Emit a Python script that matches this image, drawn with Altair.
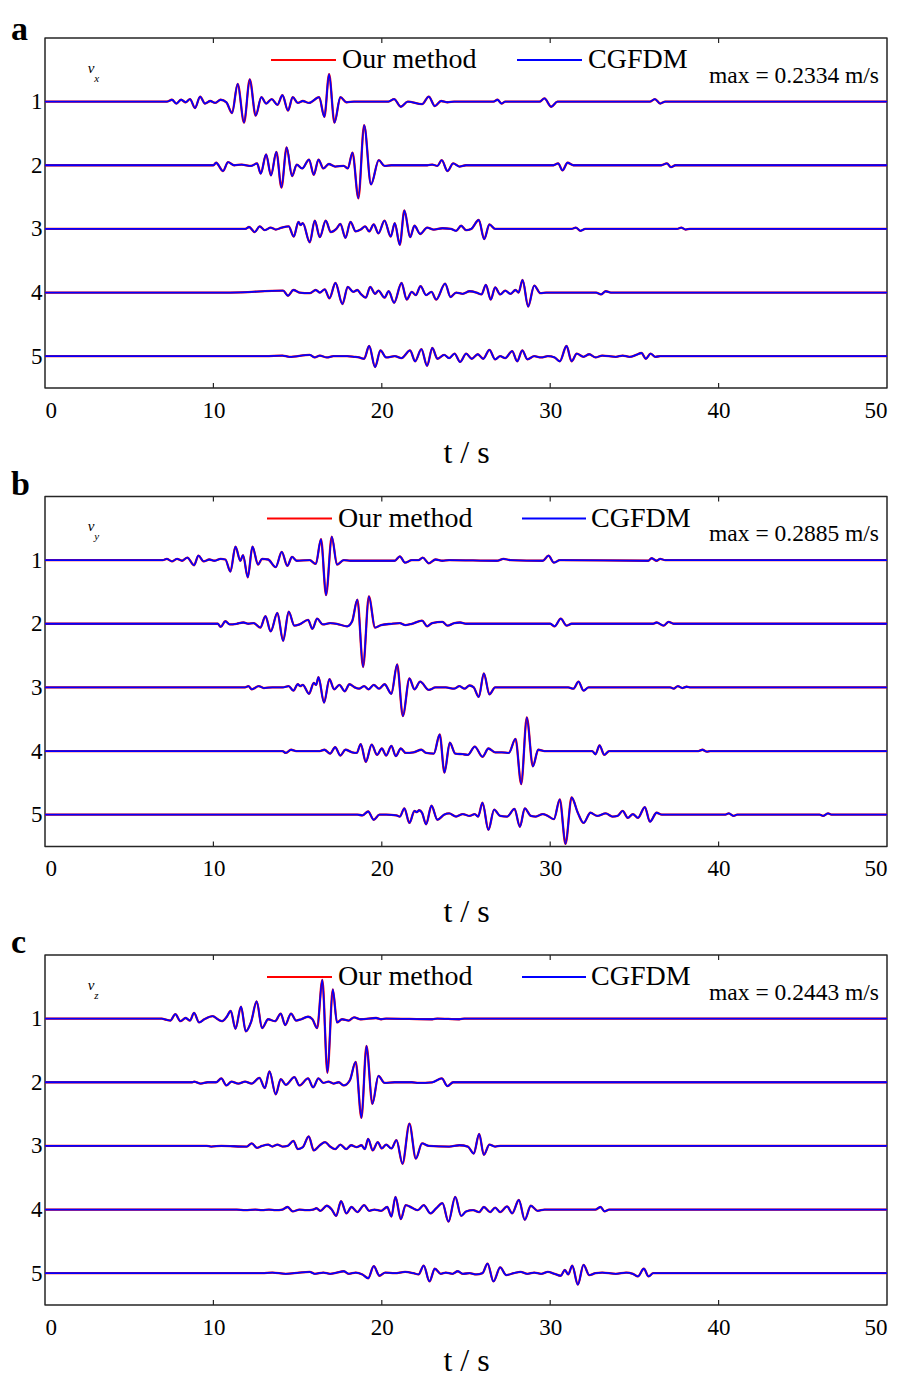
import altair as alt
import pandas as pd

FONT = "Liberation Serif"
W, H = 842, 350

x_ticks = [0, 10, 20, 30, 40, 50]
inner_ticks = [10, 20, 30, 40]
trace_ids = [1, 2, 3, 4, 5]
series_names = ["Our method", "CGFDM"]
series_colors = ["#ff0000", "#0000ff"]
panel_letters = ["a", "b", "c"]
components = ["x", "y", "z"]
max_labels = ["max = 0.2334 m/s", "max = 0.2885 m/s", "max = 0.2443 m/s"]

# (time s, normalised amplitude in trace-spacing units)
vx1 = [(0,0),(7.23,0),(7.54,.03),(7.80,-.03),(8.08,.03),(8.35,-.01),(8.61,.04),(8.91,-.10),(9.21,.08),(9.50,-.03),(9.82,.01),(10.10,-.02),(10.43,.03),(10.77,-.01),(11.11,-.18),(11.44,.28),(11.82,-.33),(12.16,.35),(12.51,-.22),(12.85,.07),(13.13,-.03),(13.46,.04),(13.80,-.05),(14.10,.10),(14.43,-.14),(14.71,.07),(15.01,-.02),(15.31,.01),(15.68,-.02),(16.28,.07),(16.59,-.24),(16.87,.43),(17.19,-.33),(17.54,.07),(17.90,-.01),(18.35,0),(20.40,0),(20.73,.04),(21.13,-.08),(21.54,0),(22.39,-.04),(22.79,.08),(23.15,-.07),(23.52,.01),(23.90,-.01),(24.3,0),(26.63,0),(26.87,.03),(27.11,-.03),(27.33,0),(29.36,0),(29.66,.05),(30.06,-.08),(30.43,0),(35.92,0),(36.22,.04),(36.53,-.03),(36.83,0),(50,0)]
vx2 = [(0,0),(10.0,0),(10.16,.04),(10.57,-.09),(10.87,.05),(11.23,0),(11.68,.01),(12.24,-.01),(12.59,.03),(12.81,-.13),(13.13,.17),(13.42,-.16),(13.74,.21),(14.04,-.35),(14.35,.28),(14.67,-.17),(14.95,.01),(15.27,-.05),(15.68,.09),(15.96,-.15),(16.24,.09),(16.53,-.05),(16.85,.02),(17.23,-.02),(17.74,-.01),(17.98,-.05),(18.26,.20),(18.61,-.52),(18.95,.63),(19.36,-.30),(19.82,.08),(20.16,-.01),(20.57,0),(22.7,0),(23.0,.01),(23.3,-.01),(23.56,.08),(23.9,-.09),(24.24,.03),(24.61,-.02),(25.0,0),(30.2,0),(30.47,.03),(30.73,-.08),(31.03,.04),(31.38,0),(36.6,0),(36.93,.03),(37.17,-.03),(37.44,0),(50,0)]
vx3 = [(0,0),(11.9,0),(12.12,.03),(12.45,-.05),(12.75,.04),(13.05,-.02),(13.40,.02),(13.70,-.01),(14.06,.02),(14.47,.04),(14.77,-.12),(15.05,.11),(15.18,.06),(15.31,.09),(15.72,-.21),(16.02,.13),(16.32,-.13),(16.67,.13),(16.97,-.05),(17.30,0),(17.54,.08),(17.84,-.14),(18.14,.11),(18.45,-.04),(18.75,-.01),(19.01,.04),(19.25,-.04),(19.52,.07),(19.80,-.07),(20.16,.13),(20.53,-.12),(20.77,.09),(21.07,-.25),(21.34,.29),(21.68,-.13),(21.94,.05),(22.28,-.08),(22.69,.02),(23.09,-.01),(23.60,.01),(24.10,0),(24.41,-.03),(24.71,.05),(25.01,-.02),(25.31,0),(25.76,.14),(26.08,-.16),(26.39,.07),(26.73,0),(31.27,0),(31.52,.02),(31.80,-.03),(32.08,0),(37.54,0),(37.78,.02),(38.04,-.01),(38.3,0),(50,0)]
vx4 = [(0,0),(11.0,0),(14.14,.03),(14.43,-.05),(14.75,.04),(15.11,0),(15.72,-.01),(16.08,.04),(16.32,0),(16.61,.05),(16.89,-.09),(17.25,.15),(17.66,-.18),(17.98,.09),(18.30,.01),(18.55,.04),(18.75,-.02),(19.05,-.08),(19.31,.09),(19.60,-.02),(19.80,.03),(20.16,-.08),(20.41,.02),(20.73,-.16),(21.17,.15),(21.48,-.11),(21.78,.01),(22.02,-.04),(22.30,.10),(22.63,-.04),(22.95,.01),(23.23,-.11),(23.76,.14),(24.08,-.07),(24.41,0),(24.81,-.02),(25.21,.02),(25.62,0),(25.92,-.03),(26.18,.12),(26.47,-.11),(26.73,.08),(27.03,-.03),(27.33,.03),(27.64,-.02),(27.94,.04),(28.12,0),(28.36,.20),(28.69,-.22),(29.05,.11),(29.42,-.01),(29.76,0),(32.73,0),(33.01,-.03),(33.30,.02),(33.60,0),(50,0)]
vx5 = [(0,0),(13.09,0),(14.10,.01),(14.51,-.01),(15.72,.02),(16.02,-.02),(16.32,.01),(16.73,-.02),(17.13,0),(17.94,0),(18.35,-.01),(18.65,-.02),(18.95,-.04),(19.25,.16),(19.60,-.17),(19.92,.09),(20.26,-.02),(20.77,0),(21.17,-.03),(21.68,.09),(21.98,-.08),(22.35,.11),(22.69,-.15),(23.0,.13),(23.3,-.04),(23.70,.02),(24.0,-.03),(24.32,.04),(24.65,-.09),(25.01,.04),(25.34,-.04),(25.70,.03),(26.02,-.04),(26.39,.10),(26.73,-.05),(27.03,0),(27.33,-.03),(27.74,.08),(28.04,-.08),(28.34,.09),(28.65,-.05),(29.05,0),(29.46,-.02),(29.86,0),(30.26,-.02),(30.57,-.08),(30.97,.16),(31.27,-.08),(31.58,.04),(31.98,-.01),(32.32,.03),(32.69,-.02),(33.09,.01),(33.90,-.01),(34.30,.01),(34.71,-.01),(35.11,.02),(35.42,.05),(35.68,-.04),(35.96,.04),(36.24,-.01),(36.53,0),(50,0)]

vy1 = [(0,0),(7.0,0),(7.23,.02),(7.54,-.02),(7.84,.02),(8.14,-.01),(8.45,.04),(8.85,-.08),(9.11,.07),(9.42,-.02),(9.76,.01),(10.06,-.01),(10.43,.02),(10.71,.01),(11.01,-.18),(11.31,.21),(11.60,-.01),(11.76,.08),(12.04,-.27),(12.32,.21),(12.65,-.07),(12.89,.02),(13.25,.01),(13.70,-.11),(14.06,.13),(14.39,-.09),(14.67,.05),(14.95,-.01),(15.72,0),(16.08,-.06),(16.39,.33),(16.69,-.55),(17.03,.37),(17.34,-.07),(17.74,0),(18.14,-.01),(20.77,-.01),(21.07,.06),(21.38,-.04),(21.78,0),(22.18,0),(22.43,.04),(22.79,-.05),(23.19,.01),(23.60,-.01),(24.0,0),(26.83,-.01),(27.23,.02),(27.64,0),(29.56,-.01),(29.90,.07),(30.22,-.04),(30.57,0),(35.82,-.01),(36.02,.03),(36.32,-.01),(36.53,.02),(36.83,0),(50,0)]
vy2 = [(0,0),(10.26,0),(10.43,-.05),(10.71,.04),(10.97,-.01),(11.38,0),(11.78,.02),(12.08,0),(12.39,.01),(12.79,-.06),(13.09,.12),(13.40,-.12),(13.80,.17),(14.14,-.27),(14.47,.19),(14.81,-.03),(15.11,-.01),(15.62,.06),(15.88,-.08),(16.16,.08),(16.49,-.01),(16.93,.01),(17.33,0),(17.94,-.04),(18.24,.04),(18.55,.38),(18.89,-.68),(19.23,.43),(19.60,-.06),(19.96,-.02),(20.57,0),(21.07,.01),(21.38,-.02),(21.78,0),(22.39,.05),(22.69,-.04),(22.99,.01),(23.60,.03),(23.90,-.03),(24.30,.01),(24.65,.02),(25.01,0),(30.0,0),(30.26,-.04),(30.63,.08),(30.97,-.03),(31.27,0),(36.1,0),(36.32,.02),(36.73,-.03),(37.03,.03),(37.33,0),(50,0)]
vy3 = [(0,0),(11.88,0),(12.08,.02),(12.28,-.03),(12.69,.02),(12.99,-.01),(13.50,0),(14.10,0),(14.47,.02),(14.75,-.05),(15.01,.05),(15.16,.02),(15.31,.04),(15.68,-.10),(15.96,.07),(16.10,.04),(16.24,.16),(16.57,-.24),(16.89,.13),(17.17,-.03),(17.48,.04),(17.80,-.06),(18.08,.05),(18.39,0),(18.65,-.02),(18.95,.02),(19.21,-.03),(19.52,.04),(19.84,-.02),(20.16,.05),(20.57,-.10),(20.91,.36),(21.25,-.45),(21.64,.14),(21.94,-.03),(22.28,.09),(22.79,-.04),(23.19,0),(23.80,0),(24.30,-.02),(24.61,.02),(24.91,-.02),(25.21,.03),(25.46,0),(25.76,-.15),(26.06,.22),(26.39,-.11),(26.73,0),(31.07,0),(31.38,-.02),(31.68,.09),(31.98,-.05),(32.28,0),(37.13,0),(37.33,-.02),(37.58,.02),(37.84,-.01),(38.10,.01),(38.35,0),(50,0)]
vy4 = [(0,0),(14.10,0),(14.30,-.03),(14.61,.02),(14.91,0),(16.32,0),(16.59,.02),(16.93,-.04),(17.23,.06),(17.54,-.07),(17.84,.02),(18.24,-.02),(18.51,-.03),(18.75,.11),(19.05,-.17),(19.40,.10),(19.72,-.06),(20.0,.04),(20.26,-.07),(20.57,.08),(20.83,-.08),(21.13,.04),(21.42,-.03),(21.88,-.02),(22.35,.02),(22.63,-.03),(23.09,-.04),(23.44,.26),(23.72,-.34),(24.04,.13),(24.36,-.04),(24.81,-.05),(25.11,-.06),(25.52,.07),(25.98,-.09),(26.33,.04),(26.73,-.02),(27.13,-.02),(27.54,-.03),(27.94,.19),(28.28,-.52),(28.61,.53),(28.97,-.24),(29.29,.02),(29.66,0),(32.49,0),(32.69,-.05),(32.93,.09),(33.21,-.06),(33.50,0),(38.8,0),(39.04,.02),(39.3,-.01),(39.5,0),(50,0)]
vy5 = [(0,0),(18.55,0),(18.85,-.01),(19.19,.05),(19.52,-.08),(19.86,0),(20.26,0),(20.87,-.01),(21.07,-.03),(21.34,.10),(21.64,-.13),(21.94,.06),(22.08,.04),(22.22,.07),(22.39,.03),(22.63,-.15),(22.95,.14),(23.30,-.08),(23.70,0),(24.0,.02),(24.41,-.03),(24.81,.01),(25.21,-.02),(25.52,.01),(25.72,-.03),(25.98,.19),(26.33,-.24),(26.67,.08),(27.03,-.02),(27.44,-.03),(27.88,.09),(28.20,-.19),(28.49,.10),(28.85,-.02),(29.15,-.03),(29.56,.01),(29.86,-.02),(30.22,-.07),(30.57,.24),(30.91,-.46),(31.27,.27),(31.64,.03),(31.98,-.13),(32.39,.03),(32.79,-.02),(33.30,.02),(33.70,-.03),(34.0,-.02),(34.30,.06),(34.61,-.05),(34.91,.01),(35.21,-.05),(35.62,.12),(35.92,-.11),(36.32,.03),(36.63,0),(40.4,0),(40.6,.02),(40.9,-.02),(41.1,0),(46.0,0),(46.2,-.02),(46.5,.02),(46.7,0),(50,0)]

vz1 = [(0,0),(6.93,0),(7.23,-.02),(7.44,-.03),(7.74,.07),(8.04,-.04),(8.35,.01),(8.61,-.03),(8.85,.09),(9.15,-.06),(9.46,-.01),(9.96,.04),(10.26,-.01),(10.51,-.04),(10.77,.02),(11.03,.12),(11.31,-.16),(11.64,.19),(11.92,-.20),(12.24,-.05),(12.57,.27),(12.89,-.15),(13.25,-.01),(13.66,-.04),(14.0,.08),(14.26,-.10),(14.61,.08),(14.91,-.03),(15.21,-.01),(15.62,.03),(15.88,-.01),(16.16,-.15),(16.47,.61),(16.77,-.85),(17.09,.46),(17.34,-.06),(17.64,-.01),(18.04,-.03),(18.35,.02),(18.75,-.01),(19.66,.01),(19.96,-.01),(20.26,0),(23.0,-.01),(23.3,0),(24.6,-.01),(24.9,0),(50,0)]
vz2 = [(0,0),(8.75,0),(8.85,.01),(9.25,-.02),(9.66,0),(10.16,0),(10.47,.06),(10.77,-.05),(11.07,.01),(11.48,-.02),(11.88,.01),(12.28,-.02),(12.73,.07),(13.05,-.09),(13.33,.17),(13.70,-.19),(14.0,.05),(14.30,-.04),(14.81,.08),(15.11,-.05),(15.62,.06),(15.92,-.08),(16.24,.06),(16.53,-.01),(16.83,.01),(17.13,-.02),(17.44,0),(17.74,-.05),(18.10,.03),(18.45,.32),(18.79,-.56),(19.09,.57),(19.44,-.34),(19.80,.10),(20.16,-.01),(20.77,0),(21.78,0),(22.18,-.01),(22.99,0),(23.56,.06),(23.90,-.06),(24.24,0),(50,0)]
vz3 = [(0,0),(9.6,0),(9.86,-.01),(10.47,0),(11.98,-.01),(12.28,.04),(12.59,-.03),(12.89,0),(13.25,.02),(13.50,-.01),(13.80,.02),(14.10,-.01),(14.41,0),(14.75,.08),(15.01,-.05),(15.31,-.02),(15.66,.15),(15.96,-.07),(16.32,.01),(16.63,.06),(16.93,-.01),(17.23,-.05),(17.54,.02),(17.88,-.05),(18.18,.01),(18.51,-.02),(18.79,.01),(18.99,-.05),(19.19,.11),(19.46,-.07),(19.76,.06),(20.0,-.04),(20.26,.02),(20.57,-.04),(20.87,.09),(21.23,-.28),(21.64,.35),(22.02,-.20),(22.39,.04),(22.79,0),(24.0,-.01),(24.61,.01),(25.11,-.01),(25.46,-.12),(25.78,.19),(26.06,-.14),(26.39,.02),(26.73,-.01),(27.03,0),(50,0)]
vz4 = [(0,0),(11.38,0),(11.88,-.01),(12.49,0),(12.89,-.01),(13.30,0),(13.70,-.01),(14.10,0),(14.41,.04),(14.71,-.03),(15.11,0),(15.52,-.01),(15.92,0),(16.12,.02),(16.36,-.02),(16.73,.06),(17.03,0),(17.29,-.10),(17.58,.13),(17.90,-.06),(18.20,.04),(18.55,-.04),(18.95,.07),(19.25,-.02),(19.56,0),(19.96,-.02),(20.32,.04),(20.57,-.11),(20.81,.20),(21.13,-.15),(21.42,.07),(21.78,.03),(22.14,-.01),(22.49,.07),(22.89,-.06),(23.23,.02),(23.60,.10),(23.96,-.19),(24.36,.20),(24.71,-.10),(25.01,-.03),(25.42,-.01),(25.78,-.04),(26.06,.04),(26.43,-.04),(26.73,.03),(27.03,-.04),(27.44,.05),(27.74,-.06),(28.14,.15),(28.49,-.16),(28.85,.06),(29.25,-.02),(29.66,0),(32.69,0),(32.99,.04),(33.23,-.03),(33.50,0),(50,0)]
vz5 = [(0,0),(12.89,0),(13.50,.01),(14.30,-.01),(15.11,.01),(15.72,.02),(16.02,-.01),(16.53,.01),(16.93,-.01),(17.33,.01),(17.74,.03),(18.04,-.01),(18.45,.01),(18.85,-.02),(19.19,-.08),(19.52,.11),(19.86,-.04),(20.20,.01),(20.77,0),(21.38,.02),(21.88,0),(22.18,-.02),(22.49,.12),(22.83,-.13),(23.15,.07),(23.50,-.01),(23.80,.01),(24.20,-.01),(24.51,.03),(24.81,-.01),(25.21,0),(25.62,-.02),(25.98,0),(26.28,.15),(26.63,-.13),(27.03,.09),(27.39,-.03),(27.84,0),(28.24,.02),(28.65,-.01),(29.05,.01),(29.46,-.01),(29.86,.02),(30.26,-.01),(30.63,-.04),(30.87,.05),(31.07,-.02),(31.31,.12),(31.64,-.18),(31.98,.13),(32.32,-.03),(32.69,0),(33.09,.01),(33.90,-.01),(34.51,.01),(34.91,-.01),(35.21,-.05),(35.56,.07),(35.84,-.05),(36.12,0),(50,0)]

panels = [[vx1, vx2, vx3, vx4, vx5], [vy1, vy2, vy3, vy4, vy5], [vz1, vz2, vz3, vz4, vz5]]

# layout constants (pixels within each plot area)
legend_x = [
    (226, 291, 297, 472, 537, 543),
    (222, 287, 293, 477, 541, 546),
    (222, 287, 293, 477, 541, 546),
]
title_pad = [15.8, 15.8, 6.8]
letter_y = [2, -2, -2]
GAP = 108.5


def one(**kw):
    return pd.DataFrame([kw])


def text_layer(label, x, y, size, align="left", weight="normal", style="normal"):
    return alt.Chart(one(s=label)).mark_text(
        align=align, baseline="alphabetic", font=FONT, fontSize=size,
        fontWeight=weight, fontStyle=style, color="black"
    ).encode(x=alt.value(x), y=alt.value(y), text="s:N")


def panel(idx):
    rows = []
    for k, tr in zip(trace_ids, panels[idx]):
        for t, a in tr:
            rows.append({"t": t, "y": k - a, "trace": k})
    df = pd.DataFrame(rows)

    x = alt.X("t:Q", scale=alt.Scale(domain=[0, 50], nice=False, zero=False),
              axis=alt.Axis(values=x_ticks, title="t / s", ticks=False, domain=False, grid=False,
                            labelFlush=True, labelFont=FONT, labelFontSize=23, labelColor="black",
                            labelPadding=11, format="d", titleFont=FONT, titleFontSize=32,
                            titleFontWeight="normal", titleColor="black",
                            titlePadding=title_pad[idx]))
    y = alt.Y("y:Q", scale=alt.Scale(domain=[0, 5.5], reverse=True, nice=False, zero=False),
              axis=alt.Axis(values=trace_ids, title=None, ticks=False, domain=False, grid=False,
                            labelFont=FONT, labelFontSize=23, labelColor="black", labelPadding=3,
                            format="d"))

    red = alt.Chart(df).mark_line(color=series_colors[0], strokeWidth=2.3, strokeJoin="round",
                                  interpolate="monotone").encode(x=x, y=y, detail="trace:N")
    blue = alt.Chart(df).mark_line(color=series_colors[1], strokeWidth=1.8, strokeJoin="round",
                                   interpolate="monotone").encode(x=x, y=y, detail="trace:N")

    tick_df = pd.DataFrame({"t": inner_ticks})
    top_ticks = alt.Chart(tick_df).mark_rule(color="#262626", strokeWidth=1.2).encode(
        x=x, y=alt.value(0), y2=alt.value(5))
    bot_ticks = alt.Chart(tick_df).mark_rule(color="#262626", strokeWidth=1.2).encode(
        x=x, y=alt.value(H - 5), y2=alt.value(H))

    r1, r2, t1, b1, b2, t2 = legend_x[idx]
    leg_red = alt.Chart(one(s=series_names[0])).mark_rule(color=series_colors[0], strokeWidth=1.8).encode(
        x=alt.value(r1), x2=alt.value(r2), y=alt.value(22))
    leg_blue = alt.Chart(one(s=series_names[1])).mark_rule(color=series_colors[1], strokeWidth=1.8).encode(
        x=alt.value(b1), x2=alt.value(b2), y=alt.value(22))
    leg_t1 = text_layer(series_names[0], t1, 30, 28)
    leg_t2 = text_layer(series_names[1], t2, 30, 28)

    mx = text_layer(max_labels[idx], W - 8, 44.5, 23.5, align="right")
    v = text_layer("v", 42.7, 34.5, 15, style="italic")
    sub = text_layer(components[idx], 49.3, 43.5, 11, style="italic")
    letter = text_layer(panel_letters[idx], -34, letter_y[idx], 34, weight="bold")

    layers = [red, blue, top_ticks, bot_ticks, leg_red, leg_blue, leg_t1, leg_t2, mx, v, sub, letter]
    if idx == 0:
        # invisible spacer: keeps a small margin above / left of the panel letter
        spacer = alt.Chart(one(s="")).mark_rule(opacity=0, strokeOpacity=0).encode(
            x=alt.value(-36), x2=alt.value(-34), y=alt.value(-29))
        layers.append(spacer)
    return alt.layer(*layers).properties(width=W, height=H)


chart = alt.vconcat(panel(0), panel(1), panel(2), spacing=GAP, bounds="flush").properties(
    padding=0, background="white"
).configure_view(stroke="#262626", strokeWidth=1.5, strokeJoin="round")

chart.save("out.html", embed_options={"renderer": "svg", "actions": False})
